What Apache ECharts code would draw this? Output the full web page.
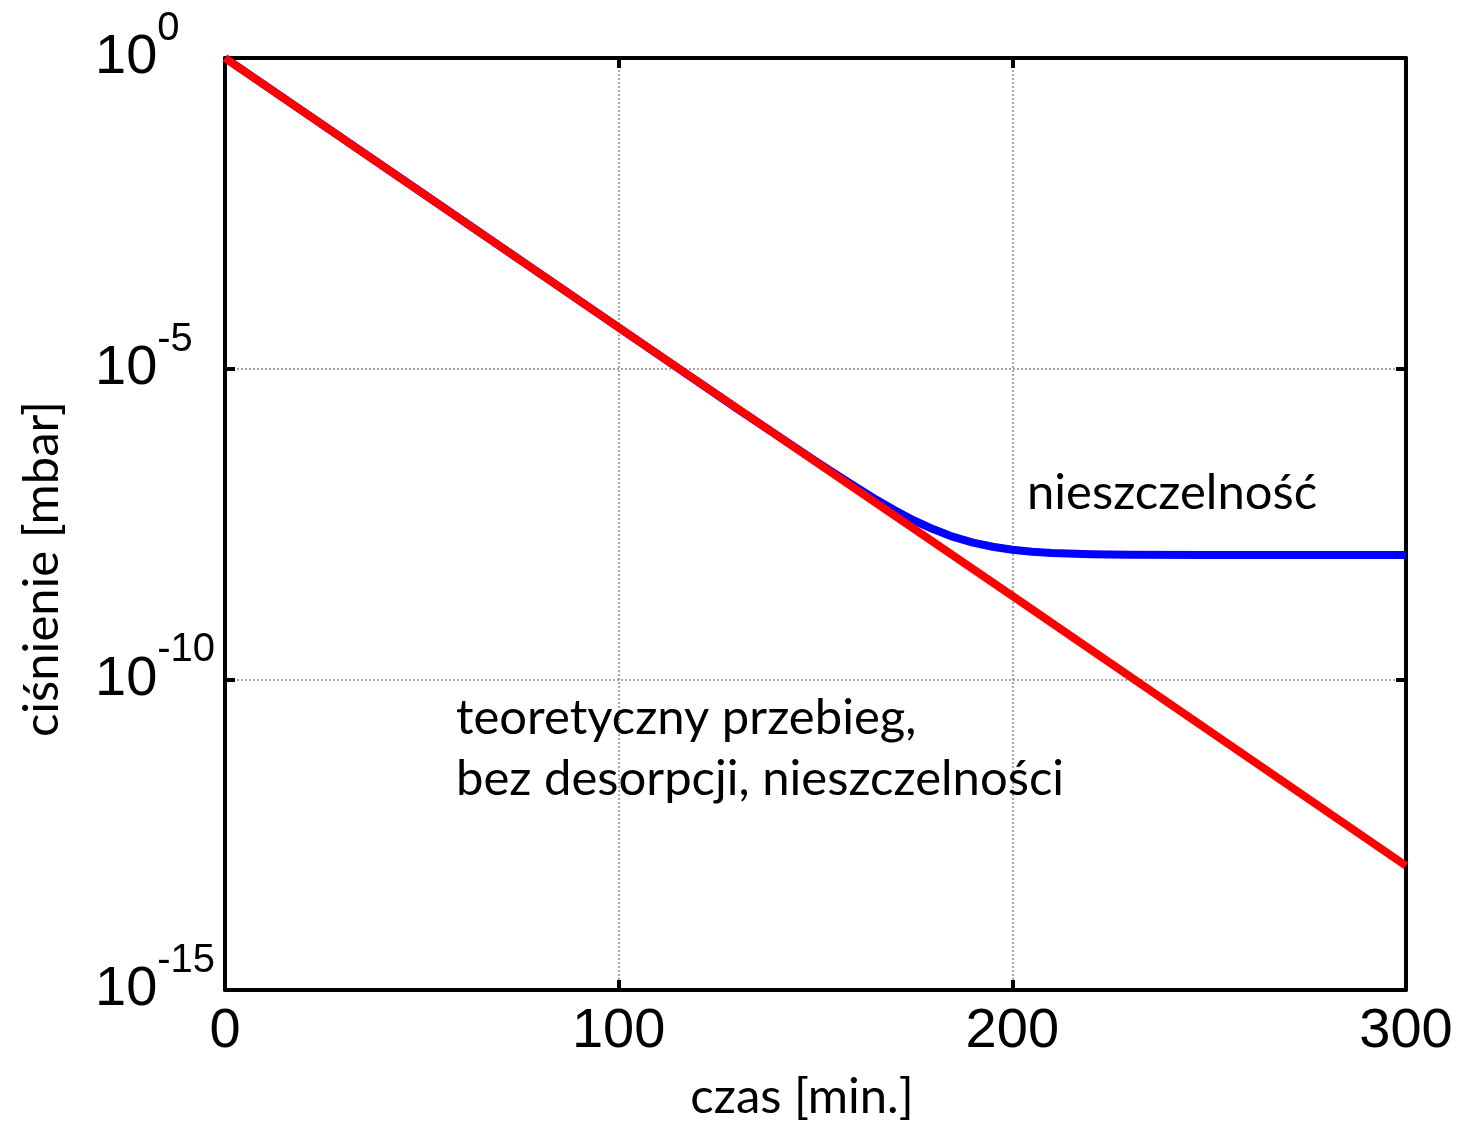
<!DOCTYPE html>
<html>
<head>
<meta charset="utf-8">
<script src="https://cdn.jsdelivr.net/npm/echarts@6/dist/echarts.min.js"></script>
<style>
html,body{margin:0;padding:0;background:#fff;}
#chart{width:1461px;height:1121px;}
</style>
</head>
<body>
<div id="chart"></div>
<script>
// ---- data ----
var xTicks = [0, 100, 200, 300];
var yTickExponents = [0, -5, -10, -15];
var theoreticalCurve = [[0, 1], [100, 4.6e-5], [200, 2.2e-9], [300, 1e-13]];
var leakCurve = [
  [0, 1], [50, 6.8e-3], [100, 4.6e-5], [130, 2.3e-6], [150, 3.26e-7],
  [155, 2.02e-7], [160, 1.27e-7], [165, 8.1e-8], [170, 5.3e-8], [175, 3.6e-8],
  [180, 2.6e-8], [185, 1.96e-8], [190, 1.59e-8], [195, 1.36e-8], [200, 1.22e-8],
  [205, 1.13e-8], [210, 1.08e-8], [220, 1.03e-8], [230, 1.01e-8], [250, 1.0e-8],
  [300, 1.0e-8]
];
var xTitle = 'czas [min.]';
var yTitle = 'ciśnienie [mbar]';
var leakLabel = 'nieszczelność';
var theoryLabel = ['teoretyczny przebieg,', 'bez desorpcji, nieszczelności'];

var chart = echarts.init(document.getElementById('chart'), null, {renderer: 'canvas'});
var tickFont = 'Liberation Sans';
var textFont = 'Lato';
var textSize = 49;

function sideAxis(type, pos) {
  return {
    type: type, position: pos,
    axisLine: {show: true, onZero: false, lineStyle: {color: '#000', width: 4}},
    axisTick: {show: true, inside: true, length: 10, lineStyle: {color: '#000', width: 4}},
    axisLabel: {show: false},
    splitLine: {show: false}
  };
}

var xTop = sideAxis('value', 'top');
xTop.min = xTicks[0]; xTop.max = xTicks[xTicks.length - 1]; xTop.interval = 100;
var yRight = sideAxis('log', 'right');
yRight.logBase = 10; yRight.min = Math.pow(10, yTickExponents[3]); yRight.max = Math.pow(10, yTickExponents[0]);
yRight.interval = 5; yRight.splitNumber = 3;

var option = {
  backgroundColor: '#ffffff',
  animation: false,
  grid: {left: 225, right: 55, top: 58, bottom: 131, show: false},
  xAxis: [{
    type: 'value', min: xTicks[0], max: xTicks[xTicks.length - 1], interval: 100,
    position: 'bottom',
    axisLine: {show: true, onZero: false, lineStyle: {color: '#000', width: 4}},
    axisTick: {show: true, inside: true, length: 10, lineStyle: {color: '#000', width: 4}},
    axisLabel: {show: true, margin: 14, color: '#000', fontSize: 56, fontFamily: tickFont},
    splitLine: {show: true, lineStyle: {color: '#8a8a8a', width: 1.5, type: [2, 2]}}
  }, xTop],
  yAxis: [{
    type: 'log', logBase: 10,
    min: Math.pow(10, yTickExponents[3]), max: Math.pow(10, yTickExponents[0]),
    interval: 5, splitNumber: 3,
    position: 'left',
    axisLine: {show: true, onZero: false, lineStyle: {color: '#000', width: 4}},
    axisTick: {show: true, inside: true, length: 10, lineStyle: {color: '#000', width: 4}},
    axisLabel: {
      show: true, margin: 130, align: 'left', color: '#000',
      formatter: function (v) {
        var e = Math.round(Math.log10(v));
        return '{b|10}{s|' + e + '}';
      },
      rich: {
        b: {fontSize: 56, fontFamily: tickFont, color: '#000', lineHeight: 56},
        s: {fontSize: 40, fontFamily: tickFont, color: '#000', lineHeight: 40, padding: [0, 0, 58, 0]}
      }
    },
    splitLine: {show: true, lineStyle: {color: '#8a8a8a', width: 1.5, type: [2, 2]}}
  }, yRight],
  series: [{
    name: 'leak', type: 'line', xAxisIndex: 0, yAxisIndex: 0,
    data: leakCurve, showSymbol: false, symbol: 'none', smooth: false,
    lineStyle: {color: '#0000ff', width: 8, join: 'round', cap: 'butt'}, z: 2
  }, {
    name: 'theory', type: 'line', xAxisIndex: 0, yAxisIndex: 0,
    data: theoreticalCurve, showSymbol: false, symbol: 'none',
    lineStyle: {color: '#ff0000', width: 8}, z: 3
  }],
  graphic: [
    {type: 'text', x: 802, y: 1097, z: 10,
     style: {text: xTitle, font: textSize + 'px ' + textFont, fill: '#000', align: 'center', verticalAlign: 'middle'}},
    {type: 'text', x: 42, y: 569, rotation: Math.PI / 2, z: 10,
     style: {text: yTitle, font: textSize + 'px ' + textFont, fill: '#000', align: 'center', verticalAlign: 'middle'}},
    {type: 'text', x: 1027, y: 493, z: 10,
     style: {text: leakLabel, font: textSize + 'px ' + textFont, fill: '#000', align: 'left', verticalAlign: 'middle'}},
    {type: 'text', x: 456, y: 718, z: 10,
     style: {text: theoryLabel[0], font: textSize + 'px ' + textFont, fill: '#000', align: 'left', verticalAlign: 'middle'}},
    {type: 'text', x: 456, y: 779, z: 10,
     style: {text: theoryLabel[1], font: textSize + 'px ' + textFont, fill: '#000', align: 'left', verticalAlign: 'middle'}}
  ]
};
chart.setOption(option);
</script>
</body>
</html>
